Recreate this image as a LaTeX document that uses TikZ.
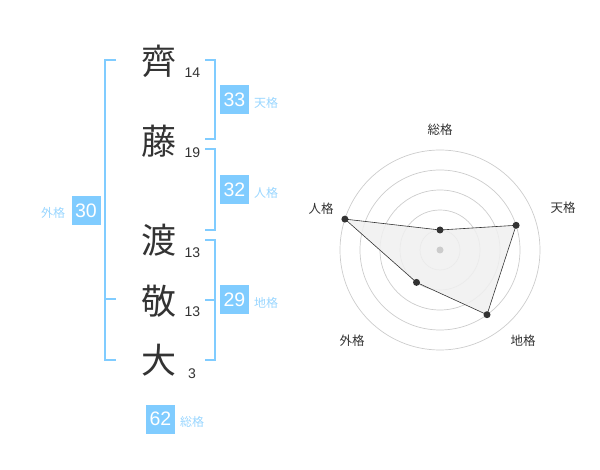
\documentclass[tikz,border=0pt]{standalone}
\usepackage{fontspec}
\setmainfont{Liberation Sans}
\newfontfamily\jp{Noto Sans CJK JP}
\definecolor{sky}{HTML}{80CCFF}
\definecolor{skytext}{HTML}{99D6FF}
\definecolor{ink}{HTML}{333333}
\definecolor{ring}{HTML}{CCCCCC}
\definecolor{area}{HTML}{F0F0F0}
\begin{document}
\begin{tikzpicture}[x=1pt,y=-1pt,
 kanji/.style={font=\jp\fontsize{35}{35}\selectfont, text=ink, inner sep=0pt},
 strokes/.style={font=\fontsize{14}{14}\selectfont, text=ink, inner sep=0pt},
 numbox/.style={fill=sky, text=white, minimum width=29pt, minimum height=29pt, inner sep=0pt, font=\fontsize{19.5}{19.5}\selectfont},
 kaku/.style={text=skytext, font=\jp\fontsize{12}{12}\selectfont, inner sep=0pt},
 bracket/.style={draw=sky, line width=2pt},
 ringline/.style={draw=ring, line width=0.7pt},
 axislabel/.style={text=ink, font=\jp\fontsize{12.5}{12.5}\selectfont, inner sep=0pt},
 dot/.style={circle, fill=ink, inner sep=0pt, minimum size=7pt},
 cdot/.style={circle, fill=ring, inner sep=0pt, minimum size=7pt}]
\useasboundingbox (0,0) rectangle (600,470);
% names
\node[kanji] (k1) at (159,61) {齊};
\node[kanji] (k2) at (159,141) {藤};
\node[kanji] (k3) at (159,240) {渡};
\node[kanji] (k4) at (159,301) {敬};
\node[kanji] (k5) at (159,360) {大};
\node[strokes] (s1) at (192.5,73) {14};
\node[strokes] (s2) at (192.5,153) {19};
\node[strokes] (s3) at (192.5,253) {13};
\node[strokes] (s4) at (192.5,312) {13};
\node[strokes] (s5) at (192,373.5) {3};
% brackets
\draw[bracket] (116,60) -- (105,60) -- (105,360) -- (116,360);
\draw[bracket] (105,299) -- (116,299);
\draw[bracket] (205,60) -- (214.5,60) -- (214.5,139.5) -- (205,139.5);
\draw[bracket] (205,149.5) -- (214.5,149.5) -- (214.5,230) -- (205,230);
\draw[bracket] (205,240) -- (214.5,240) -- (214.5,360) -- (205,360);
\draw[bracket] (205,300) -- (214.5,300);
% boxes
\node[numbox] (b30) at (86,210.5) {30};
\node[kaku] (l30) at (53,213) {外格};
\node[numbox] (b33) at (234.5,100) {33};
\node[kaku] (l33) at (266,103) {天格};
\node[numbox] (b32) at (234.5,190) {32};
\node[kaku] (l32) at (266,193) {人格};
\node[numbox] (b29) at (234.5,300) {29};
\node[kaku] (l29) at (266,303) {地格};
\node[numbox] (b62) at (160.5,419) {62};
\node[kaku] (l62) at (192,422) {総格};
% radar
\foreach \r in {20,40,60,80,100} \draw[ringline] (440,250) circle[radius=\r];
\coordinate (pS) at (440,230);
\coordinate (pT) at (516.1,225.3);
\coordinate (pC) at (487.0,314.7);
\coordinate (pG) at (416.5,282.4);
\coordinate (pJ) at (344.9,219.1);
\fill[area, opacity=0.85] (pS) -- (pT) -- (pC) -- (pG) -- (pJ) -- cycle;
\draw[ink, line width=0.6pt] (pS) -- (pT) -- (pC) -- (pG) -- (pJ) -- cycle;
\node[cdot] (ctr) at (440,250) {};
\node[dot] (dS) at (pS) {};
\node[dot] (dT) at (pT) {};
\node[dot] (dC) at (pC) {};
\node[dot] (dG) at (pG) {};
\node[dot] (dJ) at (pJ) {};
\node[axislabel] (aS) at (440,130) {総格};
\node[axislabel] (aT) at (563,208) {天格};
\node[axislabel] (aJ) at (321,209) {人格};
\node[axislabel] (aC) at (523,341) {地格};
\node[axislabel] (aG) at (352,341) {外格};
\end{tikzpicture}
\end{document}
